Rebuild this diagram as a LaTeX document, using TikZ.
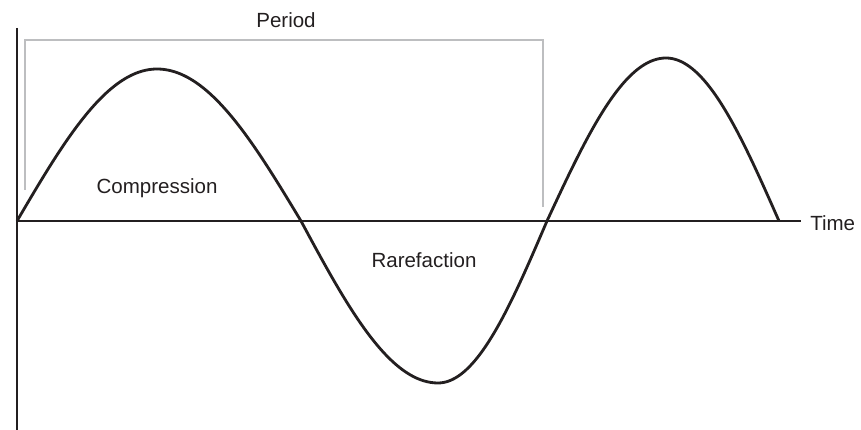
\documentclass[tikz,border=0pt]{standalone}
\usepackage{fontspec}
\setmainfont{Liberation Sans}
\usetikzlibrary{calc}
\definecolor{ink}{HTML}{231F20}
\definecolor{brk}{HTML}{BDBEC0}
\tikzset{every node/.style={font=\fontsize{14.6}{17}\selectfont,text=ink},axis/.style={line width=2pt,draw=ink},wave/.style={line width=2pt,draw=ink,line join=round},bracket/.style={line width=1.5pt,draw=brk}}
\begin{document}
\begin{tikzpicture}
\useasboundingbox (-0.425,-5.225) rectangle (21.1,5.525);
\coordinate (o) at (0,0);\coordinate (ytop) at (0,4.825);\coordinate (ybot) at (0,-5.225);\coordinate (xend) at (19.6,0);
\draw[axis] (ytop)--(ybot);\draw[axis] (o)--(xend);
% quarter waves: start/end/amplitude/phase
\foreach \a/\b/\amp/\p in {0/3.5/3.8/0,3.5/7.1/3.8/90,7.1/10.525/-4.05/0,10.525/13.25/-4.05/90,13.25/16.225/4.075/0,16.225/19.05/4.075/90}
  \draw[wave] plot[domain=\p:\p+90,samples=40,smooth] ({\a+(\b-\a)*(\x-\p)/90},{\amp*sin(\x)});
\draw[bracket] (0.2,0.775)--(0.2,4.525)--(13.15,4.525)--(13.15,0.35);
\node (period) at (6.725,5.025){Period};
\node (comp) at (3.5,0.825){Compression};\node (rare) at (10.175,-0.975){Rarefaction};
\node[anchor=west,inner sep=0pt] (time) at ($(xend)+(0.225,-0.05)$){Time};
\end{tikzpicture}
\end{document}
